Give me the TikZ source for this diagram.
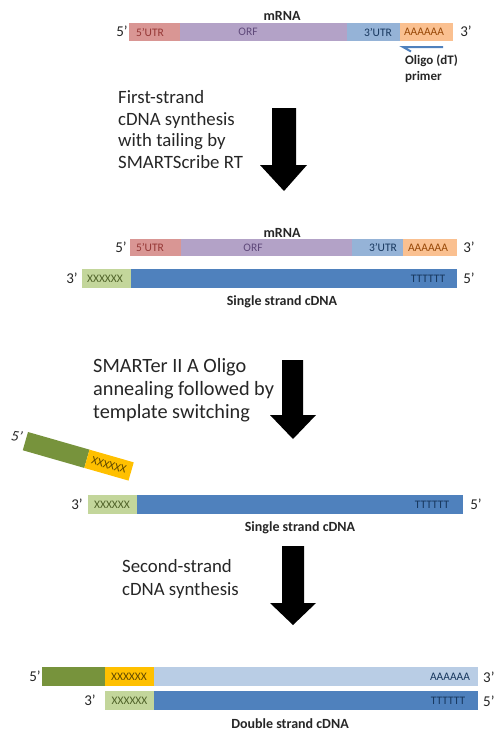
\documentclass[tikz,border=0pt]{standalone}
\usepackage{fontspec}
\setmainfont{Carlito}
\definecolor{utrfive}{HTML}{D99694}
\definecolor{utrfivet}{HTML}{953735}
\definecolor{orfc}{HTML}{B3A2C7}
\definecolor{orft}{HTML}{5F497A}
\definecolor{utrthree}{HTML}{95B3D7}
\definecolor{utrthreet}{HTML}{17375E}
\definecolor{polya}{HTML}{FAC090}
\definecolor{polyat}{HTML}{984807}
\definecolor{cdna}{HTML}{4F81BD}
\definecolor{cdnat}{HTML}{17375E}
\definecolor{xgreen}{HTML}{C3D69B}
\definecolor{xgreent}{HTML}{4F6228}
\definecolor{dgreen}{HTML}{77933C}
\definecolor{yell}{HTML}{FFC000}
\definecolor{yellt}{HTML}{5F4800}
\definecolor{lblue}{HTML}{B9CDE5}
\definecolor{txt}{HTML}{262626}
\begin{document}
\begin{tikzpicture}[x=1pt,y=-1pt,
  seg/.style={rectangle, inner sep=0pt, outer sep=0pt, anchor=north west, draw=none},
  inlab/.style={inner sep=0pt, font=\fontsize{11.5}{13}\selectfont},
  endlab/.style={inner sep=0pt, text=txt, font=\fontsize{15}{17}\selectfont},
  boldlab/.style={inner sep=0pt, text=txt, font=\bfseries\fontsize{14}{16}\selectfont},
  steptext/.style={inner sep=0pt, anchor=west, align=left, text=txt},
  bigarrow/.style={fill=black}]
\useasboundingbox (0,0) rectangle (494,731);

% ---------- Step 1: mRNA ----------
\node[boldlab] (mrnaA) at (282,16) {mRNA};
\node[seg, fill=utrfive, minimum width=51pt, minimum height=18pt] (m1a) at (129,23) {};
\node[seg, fill=orfc, minimum width=167pt, minimum height=18pt] (m1b) at (180,23) {};
\node[seg, fill=utrthree, minimum width=53pt, minimum height=18pt] (m1c) at (347,23) {};
\node[seg, fill=polya, minimum width=53pt, minimum height=18pt] (m1d) at (400,23) {};
\node[inlab, text=utrfivet] (m1at) at (150,32) {5’UTR};
\node[inlab, text=orft] (m1bt) at (248,32) {ORF};
\node[inlab, text=utrthreet] (m1ct) at (378,32) {3’UTR};
\node[inlab, text=polyat] (m1dt) at (424,32) {AAAAAA};
\node[endlab] (m1l) at (122,31) {5’};
\node[endlab] (m1r) at (466,31) {3’};
\coordinate (olA) at (443,47);
\coordinate (olB) at (403,47);
\coordinate (olC) at (411,51.5);
\draw[cdna, line width=2pt, line join=miter] (olA) -- (olB) -- (olC);
\node[inner sep=0pt, anchor=north west, align=left, text=txt, font=\bfseries\fontsize{13}{15.5}\selectfont] (oligo) at (405,55) {Oligo (dT)\\primer};

% ---------- Arrow 1 ----------
\node[steptext, font=\fontsize{18.8}{21.7}\selectfont] (t1) at (118,129.5) {First-strand\\cDNA synthesis\\with tailing by\\SMARTScribe RT};
\fill[bigarrow] (272,108) -- (296,108) -- (296,165) -- (307,165) -- (284,191) -- (260,165) -- (272,165) -- cycle;

% ---------- Step 2 ----------
\node[boldlab] (mrnaB) at (282,233) {mRNA};
\node[seg, fill=utrfive, minimum width=51pt, minimum height=17pt] (m2a) at (130,239) {};
\node[seg, fill=orfc, minimum width=171pt, minimum height=17pt] (m2b) at (181,239) {};
\node[seg, fill=utrthree, minimum width=51pt, minimum height=17pt] (m2c) at (352,239) {};
\node[seg, fill=polya, minimum width=54pt, minimum height=17pt] (m2d) at (403,239) {};
\node[inlab, text=utrfivet] (m2at) at (150,247.5) {5’UTR};
\node[inlab, text=orft] (m2bt) at (253,247.5) {ORF};
\node[inlab, text=utrthreet] (m2ct) at (383,247.5) {3’UTR};
\node[inlab, text=polyat] (m2dt) at (428,247.5) {AAAAAA};
\node[endlab] (m2l) at (121,247) {5’};
\node[endlab] (m2r) at (469,247) {3’};

\node[seg, fill=xgreen, minimum width=49pt, minimum height=19pt] (c1a) at (82,269) {};
\node[seg, fill=cdna, minimum width=326pt, minimum height=19pt] (c1b) at (131,269) {};
\node[inlab, text=xgreent] (c1at) at (105,278.5) {XXXXXX};
\node[inlab, text=cdnat] (c1bt) at (428,278.5) {TTTTTT};
\node[endlab] (c1l) at (72,278) {3’};
\node[endlab] (c1r) at (469,278) {5’};
\node[boldlab] (ss1) at (282,302) {Single strand cDNA};

% ---------- Arrow 2 ----------
\node[steptext, font=\fontsize{20.3}{23}\selectfont] (t2) at (93,390) {SMARTer II A Oligo\\annealing followed by\\template switching};
\fill[bigarrow] (282,360) -- (303,360) -- (303,415) -- (316,415) -- (293,439) -- (270,415) -- (282,415) -- cycle;

% ---------- Step 3 ----------
\begin{scope}[shift={(28,432)}, rotate=-16, transform shape]
  \node[seg, fill=dgreen, minimum width=64pt, minimum height=19pt] (oa) at (0,0) {};
  \node[seg, fill=yell, minimum width=46pt, minimum height=19pt] (ob) at (64,0) {};
  \node[inlab, text=yellt] (obt) at (87,9.5) {XXXXXX};
\end{scope}
\node[endlab, rotate=-8, font=\itshape\fontsize{15}{17}\selectfont] (ol5) at (17,436) {5’};

\node[seg, fill=xgreen, minimum width=49pt, minimum height=19pt] (c2a) at (88,495) {};
\node[seg, fill=cdna, minimum width=326pt, minimum height=19pt] (c2b) at (137,495) {};
\node[inlab, text=xgreent] (c2at) at (112,504.5) {XXXXXX};
\node[inlab, text=cdnat] (c2bt) at (432,504.5) {TTTTTT};
\node[endlab] (c2l) at (77,504) {3’};
\node[endlab] (c2r) at (476,504) {5’};
\node[boldlab] (ss2) at (300,528) {Single strand cDNA};

% ---------- Arrow 3 ----------
\node[steptext, font=\fontsize{18.8}{23}\selectfont] (t3) at (122,578.5) {Second-strand\\cDNA synthesis};
\fill[bigarrow] (282,546) -- (304,546) -- (304,603) -- (316,603) -- (293,625) -- (270,603) -- (282,603) -- cycle;

% ---------- Step 4 ----------
\node[seg, fill=dgreen, minimum width=63pt, minimum height=19pt] (d1a) at (42,667) {};
\node[seg, fill=yell, minimum width=49pt, minimum height=19pt] (d1b) at (105,667) {};
\node[seg, fill=lblue, minimum width=324pt, minimum height=19pt] (d1c) at (154,667) {};
\node[inlab, text=yellt] (d1bt) at (129,676.5) {XXXXXX};
\node[inlab, text=cdnat] (d1ct) at (450,676.5) {AAAAAA};
\node[endlab] (d1l) at (35,676) {5’};
\node[endlab, anchor=west] (d1r) at (483,677) {3’};

\node[seg, fill=xgreen, minimum width=49pt, minimum height=19pt] (d2a) at (105,691) {};
\node[seg, fill=cdna, minimum width=324pt, minimum height=19pt] (d2b) at (154,691) {};
\node[inlab, text=xgreent] (d2at) at (129.5,700.5) {XXXXXX};
\node[inlab, text=cdnat] (d2bt) at (448,700.5) {TTTTTT};
\node[endlab] (d2l) at (90,700) {3’};
\node[endlab, anchor=west] (d2r) at (483,701) {5’};
\node[boldlab] (ds) at (290,724) {Double strand cDNA};
\end{tikzpicture}
\end{document}
